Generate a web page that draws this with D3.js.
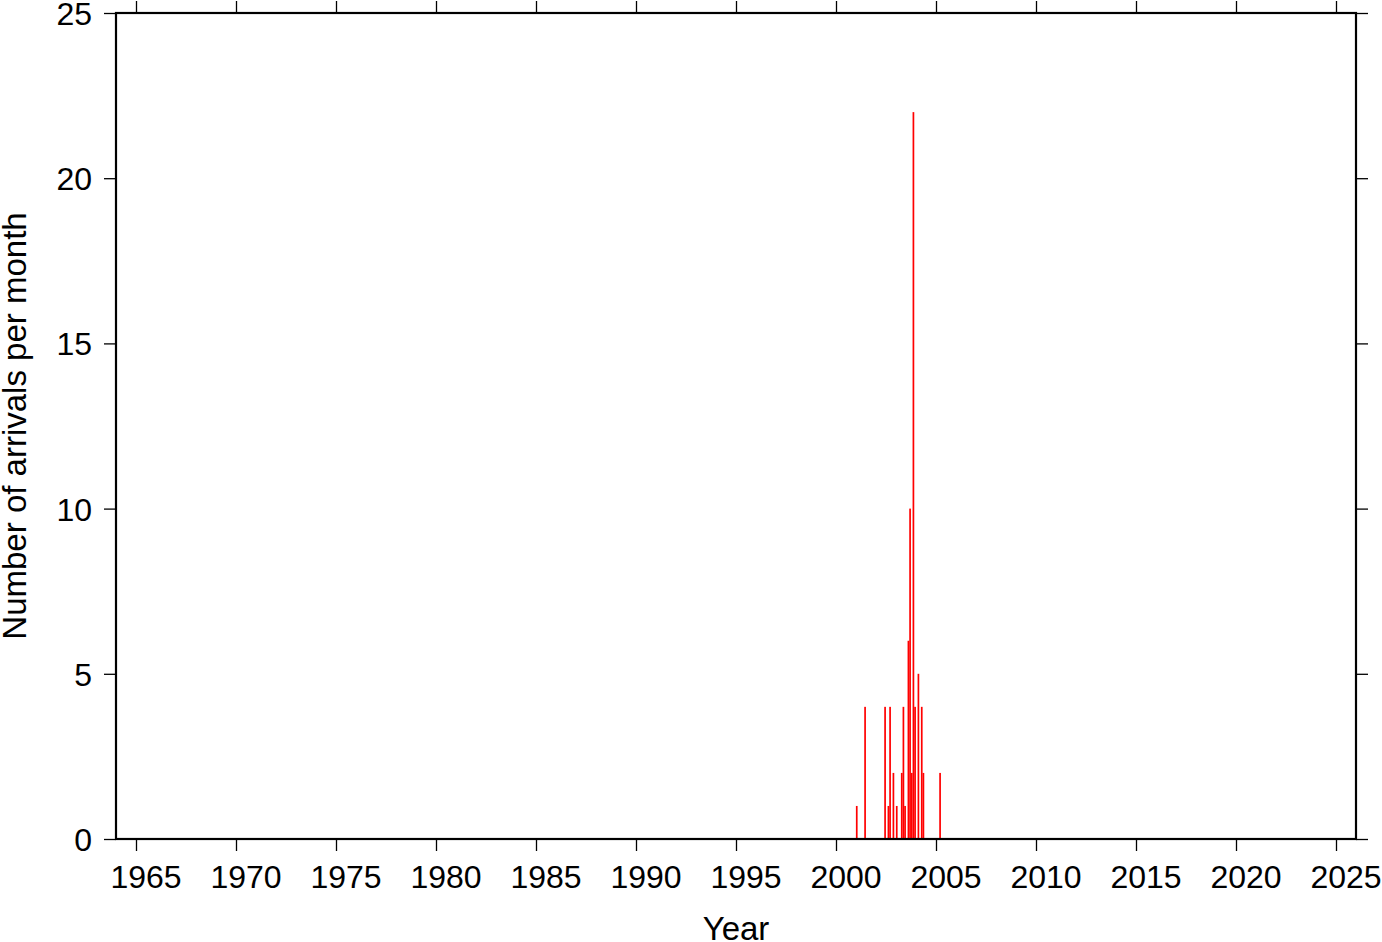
<!DOCTYPE html>
<html><head><meta charset="utf-8">
<script src="https://cdn.jsdelivr.net/npm/d3@7"></script>
<style>body{margin:0;background:#fff}svg{display:block}text{font-family:"Liberation Sans",Arial,sans-serif;fill:#000}</style>
</head><body>
<svg id="c" width="1382" height="942"></svg>
<script>
// Monthly arrival counts (year-month of the bin)
const months = ["2001-01","2001-06","2002-06","2002-08","2002-09","2002-11","2003-01","2003-04","2003-05","2003-06","2003-08","2003-09","2003-10","2003-11","2003-12","2004-02","2004-04","2004-05","2005-03"];
const counts = [1,4,4,1,4,2,1,2,4,1,6,10,2,22,4,5,4,2,2];
const xTicks = [1965,1970,1975,1980,1985,1990,1995,2000,2005,2010,2015,2020,2025];
const yTicks = [0,5,10,15,20,25];
const xTitle = "Year";
const yTitle = "Number of arrivals per month";

const svg = d3.select("#c");
const L = 116, R = 1356, T = 13, B = 839;
const x = d3.scaleLinear().domain([1964, 2026]).range([L, R]);
const y = d3.scaleLinear().domain([0, 25]).range([B, T]);
const fs = 32, tfs = 33;

const data = months.map((m, i) => {
  const [yy, mm] = m.split("-").map(Number);
  return {t: yy + (mm - 1) / 12, v: counts[i]};
});

// bars
svg.append("g").selectAll("rect").data(data).enter().append("rect")
  .attr("x", d => x(d.t) - 0.1)
  .attr("width", 1.7)
  .attr("y", d => y(d.v))
  .attr("height", d => y(0) - y(d.v))
  .attr("fill", "#ff0000");

// axes (ticks)
const tickLen = 12;
const axB = svg.append("g").attr("transform", `translate(0,${B})`)
  .call(d3.axisBottom(x).tickValues(xTicks).tickFormat("").tickSize(tickLen));
const axT = svg.append("g").attr("transform", `translate(0,${T})`)
  .call(d3.axisTop(x).tickValues(xTicks).tickFormat("").tickSize(tickLen));
const axL = svg.append("g").attr("transform", `translate(${L},0)`)
  .call(d3.axisLeft(y).tickValues(yTicks).tickSize(tickLen).tickPadding(12));
const axR = svg.append("g").attr("transform", `translate(${R},0)`)
  .call(d3.axisRight(y).tickValues(yTicks).tickFormat("").tickSize(tickLen));
[axB, axT, axL, axR].forEach(g => {
  g.select(".domain").remove();
  g.selectAll(".tick line").attr("stroke", "#000").attr("stroke-width", 1.3);
  g.selectAll("text").style("font-size", fs + "px").style("font-family", '"Liberation Sans",Arial,sans-serif').attr("fill", "#000");
});
axL.selectAll("text").attr("dy", "0.36em");

// x annotations (centred in the year interval)
svg.append("g").selectAll("text").data(xTicks).enter().append("text")
  .attr("x", d => x(d + 0.5)).attr("y", 888).attr("text-anchor", "middle")
  .style("font-size", fs + "px").text(d => d3.format("d")(d));

// frame
svg.append("rect").attr("x", L).attr("y", T).attr("width", R - L).attr("height", B - T)
  .attr("fill", "none").attr("stroke", "#000").attr("stroke-width", 2.2);

// titles
svg.append("text").attr("x", (L + R) / 2).attr("y", 940).attr("text-anchor", "middle")
  .style("font-size", tfs + "px").text(xTitle);
svg.append("text").attr("transform", `translate(26,${(T + B) / 2}) rotate(-90)`).attr("text-anchor", "middle")
  .style("font-size", tfs + "px").text(yTitle);
</script>
</body></html>
